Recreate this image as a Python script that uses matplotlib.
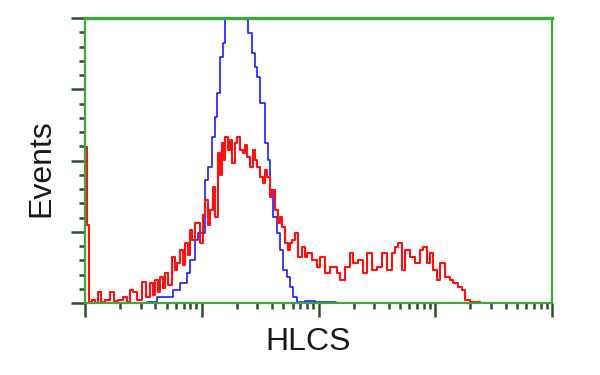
import numpy as np
import matplotlib
matplotlib.use("Agg")
import matplotlib.pyplot as plt
from matplotlib.ticker import LogLocator, MultipleLocator, NullFormatter

# Channel numbers (1024 channels over 4 log decades) and event counts (% of scale)
blue_channel = [130, 136, 158, 180, 193, 208, 224, 230, 241, 248, 263, 270, 278, 285,
                289, 296, 303, 307, 314, 322, 331, 340, 349, 355, 357, 366, 373, 377,
                384, 395, 401, 406, 412, 421, 428, 434, 443, 450, 456, 465, 482, 504,
                542, 550]
blue_counts = [0, 0.4, 2.1, 2.1, 4.6, 7.0, 10.5, 15.1, 22.1, 24.6, 43.2, 47.7, 58.2, 65.3,
               73.7, 86.3, 91.2, 110, 120, 128, 130, 128, 118, 99.3, 94.7, 87.7, 82.8, 79.3,
               70.2, 56.1, 50.2, 39.6, 30.2, 24.6, 18.6, 11.6, 9.1, 5.6, 2.1, 0.4, 0.7, 0.4,
               0.3, 0]

red_channel = [0, 1, 4, 9, 15, 22, 28, 35, 44, 55, 64, 72, 83, 92, 99, 105, 114, 125, 134,
               143, 149, 153, 160, 164, 171, 175, 182, 191, 197, 202, 208, 215, 219, 226,
               230, 235, 241, 246, 252, 259, 263, 270, 274, 281, 285, 292, 296, 300, 305,
               307, 314, 318, 322, 329, 333, 340, 346, 351, 355, 362, 368, 373, 377, 384,
               390, 395, 399, 406, 410, 417, 423, 428, 432, 439, 445, 450, 454, 460, 467,
               476, 482, 487, 498, 509, 515, 526, 537, 553, 559, 570, 581, 588, 599, 610,
               618, 629, 640, 651, 662, 673, 680, 686, 695, 702, 713, 724, 735, 741, 750,
               756, 763, 772, 778, 789, 800, 807, 818, 827, 833, 844, 860, 866, 877]
red_counts = [0, 54.7, 27.4, 0.5, 1, 0, 3.9, 0.4, 1, 3.9, 0.7, 1, 2.1, 0.4, 4.6, 3.9, 1,
              7.4, 2.1, 7.0, 2.8, 8.1, 3.9, 9.1, 5.3, 10.5, 6.3, 16.1, 11.6, 14.0, 18.6,
              13.3, 21.1, 16.8, 25.6, 22.1, 28.1, 28.1, 21.1, 30.9, 36.1, 27.4, 32.6,
              40.7, 30.2, 52.6, 44.9, 56.1, 50.2, 58.2, 53.7, 57.2, 49.1, 56.1, 58.2,
              53.7, 52.6, 55.4, 51.2, 47.7, 53.7, 50.2, 47.7, 44.2, 42.1, 46.7, 44.2,
              37.2, 39.6, 32.6, 28.1, 30.2, 26.7, 21.1, 18.6, 21.1, 22.1, 24.6, 16.1,
              19.6, 16.1, 17.5, 15.1, 12.6, 16.1, 10.5, 12.6, 10.5, 8.1, 12.6, 17.5,
              14.0, 15.1, 10.5, 17.5, 11.6, 12.6, 17.5, 11.6, 17.5, 19.6, 21.1, 11.6,
              18.6, 16.1, 14.0, 18.6, 19.6, 14.0, 17.5, 11.6, 8.1, 14.0, 9.1, 8.1, 7.0,
              5.6, 4.6, 1.1, 0.4, 0.4, 0, 0]

x_label = "HLCS"
y_label = "Events"

def to_intensity(ch):
    return 10 ** (np.asarray(ch, dtype=float) / 256.0)

green = "#3aa83a"
tickc = "#2b4f26"

fig = plt.figure(figsize=(6, 3.75), dpi=100)
ax = fig.add_axes([85 / 600, 1 - 303 / 375, (552 - 85) / 600, (303 - 18) / 375])

ax.step(to_intensity(blue_channel), blue_counts, where="post", color="#1a1aff", lw=1.2)
ax.step(to_intensity(red_channel), red_counts, where="post", color="#ff1010", lw=1.5)

ax.set_xscale("log")
ax.set_xlim(1, 1e4)
ax.set_ylim(0, 100)

ax.xaxis.set_major_locator(LogLocator(base=10, numticks=10))
ax.xaxis.set_minor_locator(LogLocator(base=10, subs=np.arange(2, 10), numticks=100))
ax.xaxis.set_major_formatter(NullFormatter())
ax.xaxis.set_minor_formatter(NullFormatter())
ax.yaxis.set_major_locator(MultipleLocator(25))
ax.yaxis.set_minor_locator(MultipleLocator(5))
ax.yaxis.set_major_formatter(NullFormatter())

ax.tick_params(axis="both", which="major", length=10, width=1.8, color=tickc, direction="out")
ax.tick_params(axis="both", which="minor", length=4.5, width=1.8, color=tickc, direction="out")
ax.tick_params(top=False, right=False)

for s in ["left", "bottom", "right"]:
    ax.spines[s].set_color(green)
    ax.spines[s].set_linewidth(1.6)
ax.spines["top"].set_color(green)
ax.spines["top"].set_linewidth(2.4)

fig.text(41 / 600, 1 - 168 / 375, y_label, rotation=90, ha="center", va="center",
         fontsize=23, family="Liberation Sans", color="#1a1a1a")
fig.text(308 / 600, 1 - 342 / 375, x_label, ha="center", va="center",
         fontsize=23, family="Liberation Sans", color="#1a1a1a")

fig.savefig("out.png", dpi=100, facecolor="white")
